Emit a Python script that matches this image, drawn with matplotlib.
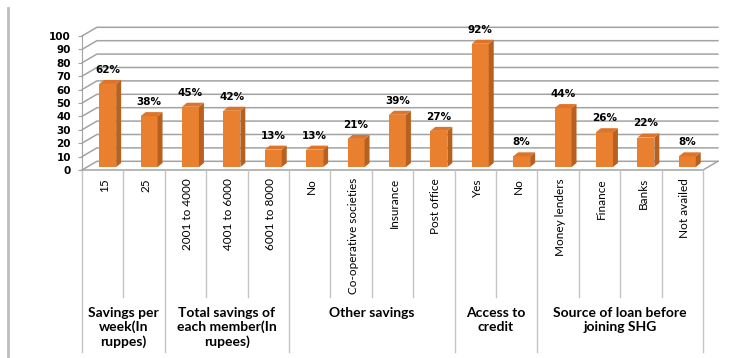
import matplotlib.pyplot as plt
import matplotlib.transforms as mtransforms
from matplotlib.lines import Line2D

# survey results (% of SHG members)
categories = ["15", "25",
              "2001 to 4000", "4001 to 6000", "6001 to 8000",
              "No", "Co-operative societies", "Insurance", "Post office",
              "Yes", "No",
              "Money lenders", "Finance", "Banks", "Not availed"]
values = [62, 38, 45, 42, 13, 13, 21, 39, 27, 92, 8, 44, 26, 22, 8]
groups = ["Savings per\nweek(In\nruppes)", "Total savings of\neach member(In\nrupees)",
          "Other savings", "Access to\ncredit", "Source of loan before\njoining SHG"]
group_sizes = [2, 3, 4, 2, 4]
yticks = list(range(0, 101, 10))

front = "#e9802f"
side = "#b7601f"
top = "#df7428"
grid_c = "#a3a3a3"
line_c = "#c4c4c4"

# depth of the 3d box (x in categories, y in value units)
dx, dy = 0.36, 6.5
# bar placement inside its slot
bar_w = 0.41
bo_x, bo_y = 0.12, 2.2
sd_x, sd_y = 0.12, 3.0

fig = plt.figure(figsize=(7.52, 3.58), dpi=100)
ax = fig.add_axes([82 / 752, 188 / 358, 621 / 752, 134 / 358])
n = len(categories)
ax.set_xlim(0, n)
ax.set_ylim(0, 100)
for s in ["top", "right", "bottom"]:
    ax.spines[s].set_visible(False)
ax.spines["left"].set_color(grid_c)
ax.set_xticks([])
ax.set_yticks(yticks)
ax.set_yticklabels([str(t) for t in yticks], fontsize=7.5, fontweight="bold",
                   family="DejaVu Sans")
ax.tick_params(axis="y", length=3, color=grid_c, pad=5)

# side wall + back wall gridlines, floor edges
for v in yticks:
    ax.plot([0, dx, n + dx], [v, v + dy, v + dy], color=grid_c, lw=1.1,
            clip_on=False, zorder=1)
ax.plot([0, n, n + dx], [0, 0, dy], color=grid_c, lw=1.1, clip_on=False, zorder=1)

# 3d bars: front face, right side, top
for i, v in enumerate(values):
    x0 = i + 0.5 + bo_x - bar_w / 2
    x1 = x0 + bar_w
    ax.bar(x0, v, width=bar_w, bottom=bo_y, align="edge", color=front,
           lw=0, zorder=3)
    ax.fill([x1, x1 + sd_x, x1 + sd_x, x1],
            [bo_y, bo_y + sd_y, v + bo_y + sd_y, v + bo_y],
            color=side, lw=0, zorder=3, clip_on=False)
    ax.fill([x0, x1, x1 + sd_x, x0 + sd_x],
            [v + bo_y, v + bo_y, v + bo_y + sd_y, v + bo_y + sd_y],
            color=top, lw=0, zorder=3, clip_on=False)
    ax.text(i + 0.5 + bo_x, v + 9, f"{v}%", ha="center", va="bottom",
            fontsize=7.5, fontweight="bold", family="DejaVu Sans",
            clip_on=False)

# multi-level category axis
tr = mtransforms.blended_transform_factory(ax.transData, ax.transAxes)
for i, c in enumerate(categories):
    ax.text(i + 0.55, -0.06, c, rotation=90, ha="center", va="top",
            fontsize=8.5, family="Lato", transform=tr)

bounds = [0]
for g in group_sizes:
    bounds.append(bounds[-1] + g)
for k in range(n + 1):
    low = -1.36 if k in bounds else -0.95
    ax.plot([k, k], [0, low], color=line_c, lw=1.0, transform=tr, clip_on=False)

for g, a, b in zip(groups, bounds[:-1], bounds[1:]):
    ax.text((a + b) / 2, -1.02, g, ha="center", va="top", fontsize=10,
            fontweight="bold", family="Lato", linespacing=1.2, transform=tr)

# outer chart border on the left
fig.add_artist(Line2D([8 / 752, 8 / 752], [0, 350 / 358], color="#bdbdbd", lw=2))

fig.savefig("out.png", dpi=100)
